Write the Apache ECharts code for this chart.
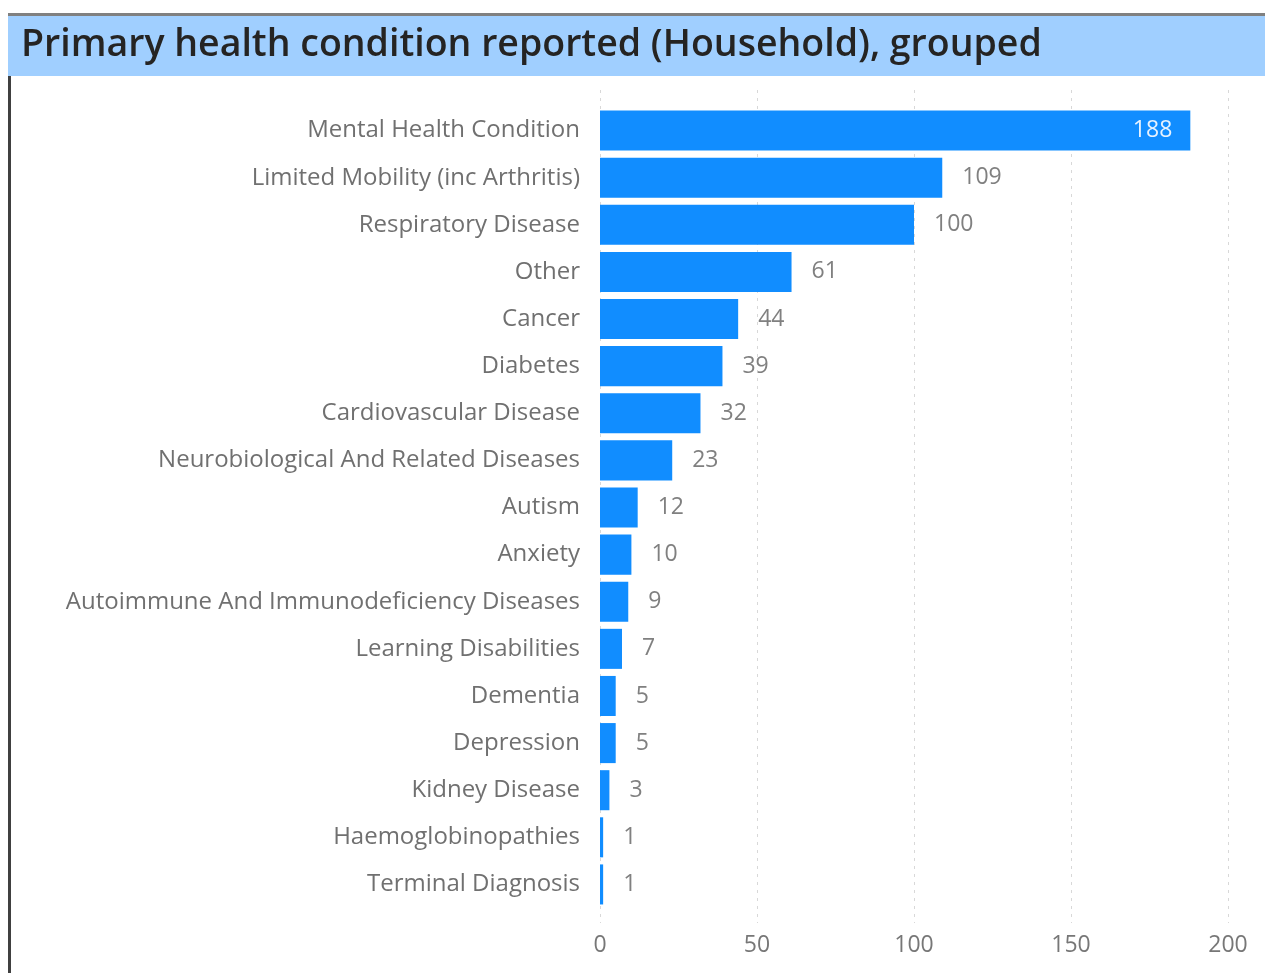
<!DOCTYPE html>
<html>
<head>
<meta charset="utf-8">
<script src="https://cdn.jsdelivr.net/npm/echarts@6/dist/echarts.min.js"></script>
<style>
html,body{margin:0;padding:0;background:#fff;}
#chart{width:1265px;height:973px;}
</style>
</head>
<body>
<div id="chart"></div>
<script>
const titleText = "Primary health condition reported (Household), grouped";
const categories = [
  "Mental Health Condition",
  "Limited Mobility (inc Arthritis)",
  "Respiratory Disease",
  "Other",
  "Cancer",
  "Diabetes",
  "Cardiovascular Disease",
  "Neurobiological And Related Diseases",
  "Autism",
  "Anxiety",
  "Autoimmune And Immunodeficiency Diseases",
  "Learning Disabilities",
  "Dementia",
  "Depression",
  "Kidney Disease",
  "Haemoglobinopathies",
  "Terminal Diagnosis"
];
const values = [188, 109, 100, 61, 44, 39, 32, 23, 12, 10, 9, 7, 5, 5, 3, 1, 1];
const xTicks = [0, 50, 100, 150, 200];

const chart = echarts.init(document.getElementById('chart'));
const FONT = "'Open Sans', 'Noto Sans', sans-serif";
const insideThreshold = 150;

chart.setOption({
  animation: false,
  graphic: [
    { type: 'rect', shape: { x: 8, y: 13, width: 1257, height: 3 }, style: { fill: '#808080' } },
    { type: 'rect', shape: { x: 8, y: 16, width: 1257, height: 60 }, style: { fill: '#A0CFFF' } },
    { type: 'rect', shape: { x: 8, y: 76, width: 3, height: 897 }, style: { fill: '#404040' } },
    { type: 'text', left: 21, top: 26, style: { text: titleText, font: "600 37.5px " + FONT, fill: '#252423' } }
  ],
  grid: [
    { left: 600, right: 37, top: 107, bottom: 65, containLabel: false },
    { left: 600, right: 37, top: 90, bottom: 50, containLabel: false }
  ],
  xAxis: [
    {
      gridIndex: 0, type: 'value', min: 0, max: 200, interval: 50,
      axisLine: { show: false }, axisTick: { show: false },
      splitLine: { show: false },
      axisLabel: { show: false }
    },
    {
      gridIndex: 1, type: 'value', min: 0, max: 200, interval: 50,
      axisLine: { show: false }, axisTick: { show: false },
      splitLine: { show: true, lineStyle: { color: '#D8D8D8', type: [3, 5], width: 1 } },
      axisLabel: { show: true, color: '#777777', fontSize: 23, fontFamily: FONT, margin: 11,
        formatter: v => xTicks.includes(v) ? String(v) : '' }
    }
  ],
  yAxis: [
    {
      gridIndex: 0, type: 'category', data: categories, inverse: true,
      axisLine: { show: false }, axisTick: { show: false },
      axisLabel: { color: '#707070', fontSize: 24, fontFamily: FONT, margin: 20 }
    },
    {
      gridIndex: 1, type: 'category', data: [''], show: false
    }
  ],
  series: [{
    type: 'bar',
    xAxisIndex: 0, yAxisIndex: 0,
    data: values.map(v => ({
      value: v,
      label: v >= insideThreshold
        ? { position: 'insideRight', color: '#E6F2FF', distance: 18 }
        : { position: 'right', color: '#808080', distance: 20 }
    })),
    barCategoryGap: '15%',
    itemStyle: { color: '#118DFF' },
    label: { show: true, fontSize: 23, fontFamily: FONT }
  }]
});
</script>
</body>
</html>
